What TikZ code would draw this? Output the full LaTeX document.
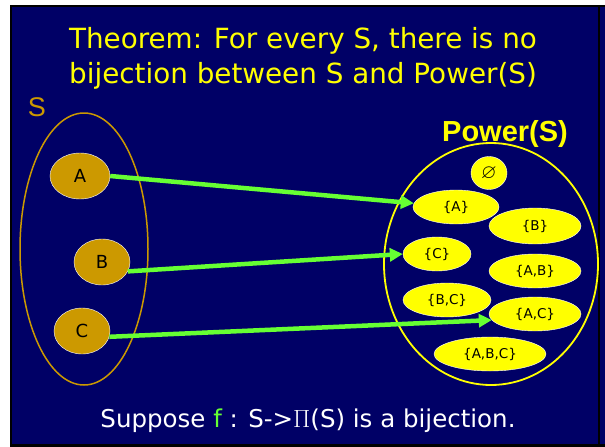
\documentclass[tikz,border=0pt]{standalone}
\usepackage{amssymb}
\usepackage{fontspec}
\setmainfont{DejaVu Sans}
\newfontfamily\arialfont{Liberation Sans}
\usepackage{tikz}
\usepackage{xcolor}
\usetikzlibrary{
  positioning, arrows.meta, shapes.geometric,
}
\definecolor{cSlide}   {HTML}{000066}
\definecolor{cTitle}   {HTML}{FFFF00}
\definecolor{cElem}    {HTML}{CC9900}
\definecolor{cSubset}  {HTML}{FFFF00}
\definecolor{cMap}     {HTML}{66FF33}

\begin{document}
\begin{tikzpicture}[x=1pt, y=-1pt,
    elem/.style={ellipse, draw=white, line width=0.4pt, fill=cElem,
      inner sep=0pt, font=\fontsize{18}{18}\selectfont},
    subset/.style={ellipse, draw=white, line width=0.4pt, fill=cSubset,
      inner sep=0pt, minimum height=34pt, font=\fontsize{13.5}{13.5}\selectfont},
    mapto/.style={cMap, line width=4.5pt,
      -{Triangle[length=13pt, width=13pt]}},
  ]
  % slide frame
  \useasboundingbox (0, 0) rectangle (605, 447);
  \fill[white] (0, 0) rectangle (605, 447);
  \fill[cSlide] (10, 5) rectangle (605, 447);
  \fill[black] (10, 5) rectangle (12, 447);
  \fill[black] (10, 5) rectangle (605, 7);
  \fill[black] (598, 5) rectangle (600, 447);
  \fill[black] (10, 444) rectangle (605, 447);

  % title
  \node[text=cTitle, font=\fontsize{27.8}{35}\selectfont, align=center]
    (title) at (303, 58) {Theorem: For every S, there is no\\
    bijection between S and Power(S)};

  % the set S
  \node[ellipse, draw=cElem, line width=1.5pt, minimum width=128pt,
    minimum height=272pt] (setS) at (84, 249) {};
  \node[text=cElem, font=\arialfont\fontsize{27}{27}\selectfont]
    (labS) at (37, 107) {S};
  \node[elem, minimum width=60pt, minimum height=46pt] (nA) at (80, 176) {A};
  \node[elem, minimum width=56pt, minimum height=46pt] (nB) at (102, 262) {B};
  \node[elem, minimum width=56pt, minimum height=46pt] (nC) at (82, 331) {C};

  % the power set
  \node[ellipse, draw=cSubset, line width=1.8pt, minimum width=214pt,
    minimum height=242pt] (setP) at (491, 264) {};
  \node[text=cTitle, font=\arialfont\bfseries\fontsize{29}{29}\selectfont]
    (labP) at (505, 134) {Power(S)};
  \node[subset, minimum width=36pt, minimum height=33pt,
    font=\fontsize{20}{20}\selectfont] (sE) at (489, 173) {$\varnothing$};
  \node[subset, minimum width=86pt] (sA) at (456, 207) {\{A\}};
  \node[subset, minimum width=92pt, minimum height=36pt] (sB) at (535, 226) {\{B\}};
  \node[subset, minimum width=68pt] (sC) at (437, 254) {\{C\}};
  \node[subset, minimum width=92pt] (sAB) at (535, 271) {\{A,B\}};
  \node[subset, minimum width=88pt] (sBC) at (447, 300) {\{B,C\}};
  \node[subset, minimum width=92pt] (sAC) at (535, 314) {\{A,C\}};
  \node[subset, minimum width=112pt] (sABC) at (490, 354) {\{A,B,C\}};

  % the map f
  \draw[mapto] (nA.east) -- (sA.175);
  \draw[mapto] (nB.-20) -- (sC.west);
  \draw[mapto] (nC.-12) -- (sAC.188);

  % supposition
  \node[text=white, font=\fontsize{24.5}{24.5}\selectfont]
    (suppose) at (308, 421) {Suppose \textcolor{cMap}{f} : S->$\Pi$(S) is a bijection.};
\end{tikzpicture}
\end{document}
